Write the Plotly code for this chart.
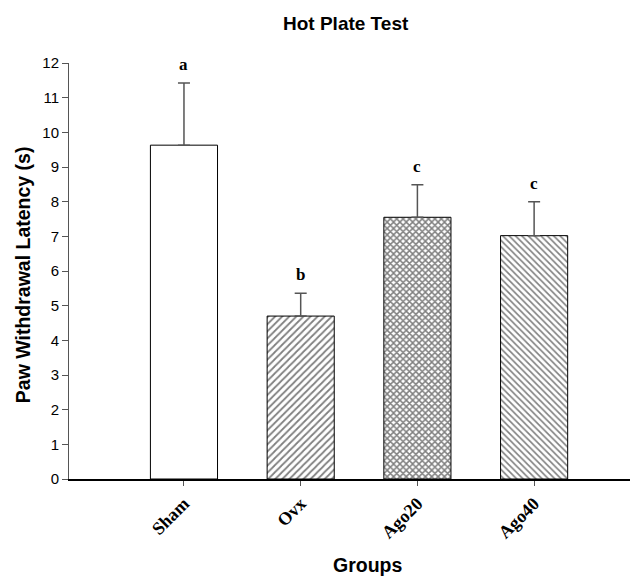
import plotly.graph_objects as go

groups = ["Sham", "Ovx", "Ago20", "Ago40"]
means = [9.63, 4.70, 7.55, 7.02]
sems = [1.79, 0.66, 0.94, 0.98]
letters = ["a", "b", "c", "c"]
patterns = ["", "/", "x", "\\"]
y_ticks = list(range(0, 13))

fig = go.Figure()
fig.add_trace(go.Bar(
    x=list(range(len(groups))),
    y=means,
    width=0.575,
    marker=dict(
        color="white",
        line=dict(color="black", width=1),
        pattern=dict(shape=patterns, size=[5, 5, 4.5, 4.5], solidity=[0.35, 0.35, 0.55, 0.35],
                     fgcolor="black", bgcolor="white"),
    ),
    error_y=dict(type="data", array=sems, arrayminus=[0] * len(sems), symmetric=False,
                 color="#555555", thickness=1.5, width=6),
    showlegend=False,
))

for i, (m, s, l) in enumerate(zip(means, sems, letters)):
    fig.add_annotation(x=i, y=m + s, text="<b>%s</b>" % l, showarrow=False,
                       yanchor="bottom", yshift=7,
                       font=dict(family="Liberation Serif", size=17, color="black"))

fig.add_annotation(xref="paper", yref="paper", x=0.487, y=1.096, text="<b>Hot Plate Test</b>",
                   xanchor="center", yanchor="middle",
                   showarrow=False, font=dict(family="Liberation Sans", size=19, color="black"))
fig.add_annotation(xref="paper", yref="paper", x=0.5246, y=-0.207, text="<b>Groups</b>",
                   xanchor="center", yanchor="middle",
                   showarrow=False, font=dict(family="Liberation Sans", size=19.5, color="black"))
fig.add_annotation(xref="paper", yref="paper", x=-0.0808, y=0.49, text="<b>Paw Withdrawal Latency (s)</b>",
                   xanchor="center", yanchor="middle",
                   textangle=-90, showarrow=False, font=dict(family="Liberation Sans", size=19.5, color="black"))

fig.update_xaxes(
    range=[-0.985, 3.89],
    tickmode="array", tickvals=list(range(len(groups))), ticktext=["<b>%s</b>" % g for g in groups],
    tickangle=-45, ticks="outside", ticklen=5, tickcolor="#555555",
    tickfont=dict(family="Liberation Serif", size=18, color="black"),
    showline=True, linecolor="black", linewidth=2, showgrid=False, zeroline=False,
    automargin=False,
)
fig.update_yaxes(
    range=[0, 12], tickmode="array", tickvals=y_ticks,
    ticks="outside", ticklen=6, tickcolor="#555555",
    tickfont=dict(family="Liberation Sans", size=15, color="black"),
    showline=True, linecolor="#555555", linewidth=1, showgrid=False, zeroline=False,
    automargin=False,
)
fig.update_layout(
    width=630, height=569,
    margin=dict(l=61, r=0, t=55, b=98),
    plot_bgcolor="white", paper_bgcolor="white",
)
fig.write_html("out.html")
